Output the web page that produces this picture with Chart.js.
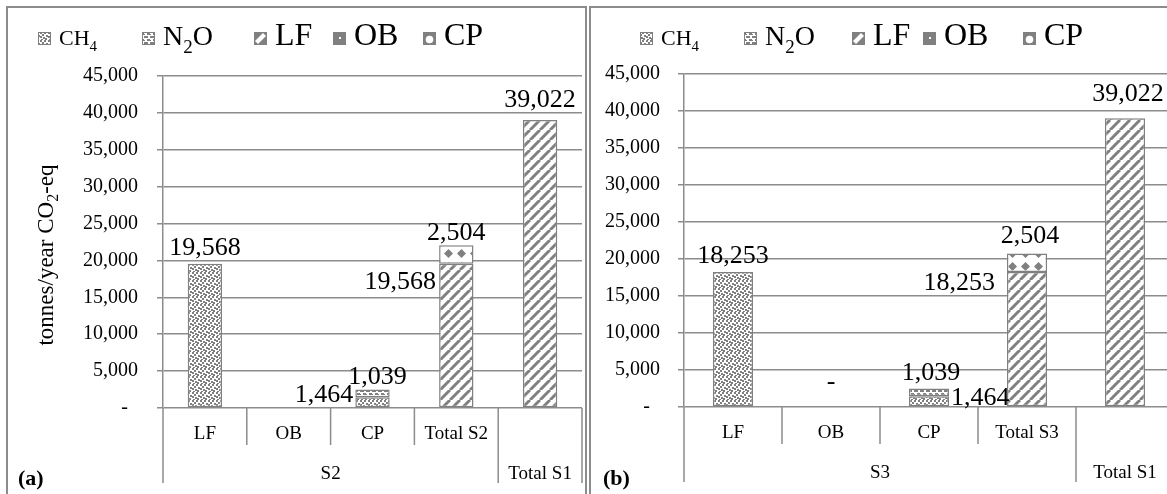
<!DOCTYPE html>
<html>
<head>
<meta charset="utf-8">
<script src="https://cdn.jsdelivr.net/npm/chart.js@4.4.1/dist/chart.umd.min.js"></script>
<style>
  html, body { margin: 0; padding: 0; background: #fff; overflow: hidden; }
  body { width: 1167px; height: 494px; position: relative; }
  .box { position: absolute; top: 6px; height: 600px; border: 2px solid #8c8c8c; border-bottom: none; }
  #boxA { left: 6px; width: 577px; }
  #boxB { left: 589px; width: 700px; }
  canvas { position: absolute; top: 0; }
</style>
</head>
<body>
<div class="box" id="boxA"></div>
<div class="box" id="boxB"></div>
<canvas id="chartA" width="588" height="494" style="left:0"></canvas>
<canvas id="chartB" width="590" height="494" style="left:590px"></canvas>
<script>
// categories
const catsA = ['LF', 'OB', 'CP', 'Total S2', ''];
const groupsA = ['S2', 'Total S1'];
const catsB = ['LF', 'OB', 'CP', 'Total S3', ''];
const groupsB = ['S3', 'Total S1'];
const groupSpans = [4, 1];
const seriesNames = ['CH4', 'N2O', 'LF', 'OB', 'CP'];

// panel (a) - S2
const ch4A = [19568, null, 1464, null, null];
const n2oA = [null, null, 1039, null, null];
const lfA = [null, null, null, 19568, 39022];
const obA = [null, null, null, null, null];
const cpA = [null, null, null, 2504, null];

// panel (b) - S3
const ch4B = [18253, null, 1464, null, null];
const n2oB = [null, null, 1039, null, null];
const lfB = [null, null, null, 18253, 39022];
const obB = [null, 0, null, null, null];
const cpB = [null, null, null, 2504, null];

// y axis
const yMax = 45000;
const yStep = 5000;
const yTitle = 'tonnes/year CO2-eq';

const GREY = '#808080';
const LINE = '#8c8c8c';
const FONT = "'Liberation Serif', 'Times New Roman', serif";

function tile(w, h, draw) {
    const c = document.createElement('canvas');
    c.width = w; c.height = h;
    const g = c.getContext('2d');
    g.fillStyle = '#fff';
    g.fillRect(0, 0, w, h);
    g.fillStyle = GREY;
    g.strokeStyle = GREY;
    draw(g);
    return c;
}

const tiles = {
    CH4: tile(8, 8, g => {
        [[0, 0], [4, 0], [2, 2], [6, 3], [0, 4], [3, 5], [5, 6], [1, 7]].forEach(p => g.fillRect(p[0], p[1], 2, 2));
    }),
    N2O: tile(6, 6, g => {
        g.fillRect(0, 0, 4, 2);
        g.fillRect(3, 3, 3, 2);
        g.fillRect(0, 4, 1, 1);
    }),
    LF: tile(10, 10, g => {
        g.lineWidth = 3;
        g.beginPath();
        [-10, 0, 10].forEach(o => { g.moveTo(o, 10); g.lineTo(o + 10, 0); });
        g.stroke();
    }),
    OB: tile(4, 4, g => g.fillRect(0, 0, 4, 4)),
    CP: tile(13, 13, g => {
        g.beginPath();
        g.moveTo(6.5, 2); g.lineTo(11, 6.5); g.lineTo(6.5, 11); g.lineTo(2, 6.5);
        g.closePath();
        g.fill();
    })
};
const pctx = document.createElement('canvas').getContext('2d');
const patterns = {};
Object.keys(tiles).forEach(k => { patterns[k] = pctx.createPattern(tiles[k], 'repeat'); });

// text with digits drawn as subscripts
function drawRich(ctx, text, x, y, size, align) {
    const sub = Math.round(size * 0.68);
    const parts = text.split(/(\d+)/).filter(s => s.length);
    let total = 0;
    parts.forEach(p => {
        ctx.font = (/\d/.test(p) ? sub : size) + 'px ' + FONT;
        total += ctx.measureText(p).width;
    });
    let cx = align === 'center' ? x - total / 2 : x;
    ctx.textAlign = 'left';
    parts.forEach(p => {
        const isSub = /\d/.test(p);
        ctx.font = (isSub ? sub : size) + 'px ' + FONT;
        ctx.fillText(p, cx, y + (isSub ? size * 0.28 : 0));
        cx += ctx.measureText(p).width;
    });
}

function legendIcon(ctx, name, x, y) {
    const s = 13;
    ctx.save();
    if (name === 'CH4' || name === 'N2O') {
        ctx.fillStyle = patterns[name];
        ctx.fillRect(x, y, s, s);
    } else {
        ctx.fillStyle = GREY;
        ctx.fillRect(x, y, s, s);
        ctx.fillStyle = '#fff';
        if (name === 'LF') {
            ctx.beginPath();
            ctx.moveTo(x + 1, y + s - 4); ctx.lineTo(x + s - 4, y + 1);
            ctx.lineTo(x + s - 1, y + 4); ctx.lineTo(x + 4, y + s - 1);
            ctx.closePath(); ctx.fill();
        } else if (name === 'OB') {
            ctx.fillRect(x + 6, y + 5, 2, 2);
        } else {
            ctx.beginPath(); ctx.arc(x + 6.5, y + 7.5, 3.8, 0, Math.PI * 2); ctx.fill();
        }
    }
    ctx.strokeStyle = GREY;
    ctx.lineWidth = 1;
    ctx.strokeRect(x + 0.5, y + 0.5, s - 1, s - 1);
    ctx.restore();
}

const decor = {
    id: 'decor',
    afterDatasetsDraw(chart, args, o) {
        const ctx = chart.ctx;
        const area = chart.chartArea;
        ctx.save();
        ctx.fillStyle = '#000';

        // value labels
        ctx.font = '26px ' + FONT;
        chart.data.datasets.forEach((ds, di) => {
            const meta = chart.getDatasetMeta(di);
            const place = o.labelAt[ds.label] || {};
            ds.data.forEach((v, i) => {
                if (v === null || !place[i]) return;
                const [pos, dx, dy] = place[i];
                const el = meta.data[i];
                const txt = v === 0 ? '-' : v.toLocaleString('en-US');
                if (pos === 'top') {
                    ctx.textAlign = 'center'; ctx.textBaseline = 'alphabetic';
                    ctx.fillText(txt, el.x + dx, el.y + dy);
                } else if (pos === 'left') {
                    ctx.textAlign = 'right'; ctx.textBaseline = 'middle';
                    ctx.fillText(txt, el.x - el.width / 2 + dx, el.y + dy);
                } else {
                    ctx.textAlign = 'left'; ctx.textBaseline = 'middle';
                    ctx.fillText(txt, el.x + el.width / 2 + dx, el.y + dy);
                }
            });
        });

        // two-level category axis
        const n = o.cats.length;
        const w = (area.right - area.left) / n;
        const bounds = [0];
        groupSpans.forEach(sp => bounds.push(bounds[bounds.length - 1] + sp));
        ctx.strokeStyle = LINE;
        ctx.lineWidth = 1.5;
        ctx.beginPath();
        for (let i = 0; i <= n; i++) {
            const x = area.left + i * w;
            const depth = bounds.includes(i) ? 75 : 37;
            ctx.moveTo(x, area.bottom);
            ctx.lineTo(x, area.bottom + depth);
        }
        ctx.stroke();
        ctx.font = '19px ' + FONT;
        ctx.textAlign = 'center';
        ctx.textBaseline = 'middle';
        o.cats.forEach((c, i) => ctx.fillText(c, area.left + (i + 0.5) * w, area.bottom + 26));
        o.groups.forEach((g, gi) => {
            const mid = (bounds[gi] + bounds[gi + 1]) / 2;
            ctx.fillText(g, area.left + mid * w, area.bottom + 66);
        });

        // legend
        ctx.textBaseline = 'alphabetic';
        seriesNames.forEach((name, i) => {
            const x = o.legendX[i];
            legendIcon(ctx, name, x, 32);
            drawRich(ctx, name, x + 21, 45, o.legendSize[i], 'left');
        });

        // panel letter
        ctx.font = 'bold 22px ' + FONT;
        ctx.textAlign = 'left';
        ctx.fillText(o.letter, o.letterX, 485);

        // y title
        if (o.yTitle) {
            ctx.translate(47, 255);
            ctx.rotate(-Math.PI / 2);
            ctx.textBaseline = 'middle';
            drawRich(ctx, o.yTitle, 0, 0, 23, 'center');
        }
        ctx.restore();
    }
};

function makeChart(id, cats, series, opt) {
    const datasets = seriesNames.map((name, i) => ({
        label: name,
        data: series[i],
        backgroundColor: patterns[name],
        borderColor: GREY,
        borderWidth: 1.5,
        borderSkipped: false,
        barPercentage: 0.41,
        categoryPercentage: 1
    }));
    return new Chart(document.getElementById(id), {
        type: 'bar',
        data: { labels: cats, datasets: datasets },
        plugins: [decor],
        options: {
            responsive: false,
            animation: false,
            layout: { padding: { top: opt.top, right: 6, left: 0, bottom: 0 } },
            scales: {
                x: {
                    stacked: true,
                    ticks: { display: false },
                    grid: { display: false },
                    border: { display: false },
                    afterFit: s => { s.height = opt.xHeight; }
                },
                y: {
                    stacked: true,
                    min: 0,
                    max: yMax,
                    ticks: {
                        stepSize: yStep,
                        padding: opt.tickPad,
                        color: '#000',
                        font: { family: FONT, size: 20 },
                        callback: v => v === 0 ? '-  ' : v.toLocaleString('en-US')
                    },
                    grid: { color: LINE, lineWidth: 1.5, tickLength: 6 },
                    border: { color: LINE, width: 1.5 },
                    afterFit: s => { s.width = opt.yWidth; }
                }
            },
            plugins: {
                legend: { display: false },
                tooltip: { enabled: false },
                decor: {
                    cats: cats,
                    groups: opt.groups,
                    labelAt: opt.labelAt,
                    legendX: opt.legendX,
                    legendSize: [22, 28, 32, 32, 32],
                    letter: opt.letter,
                    letterX: opt.letterX,
                    yTitle: opt.yTitle
                }
            }
        }
    });
}

makeChart('chartA', catsA, [ch4A, n2oA, lfA, obA, cpA], {
    top: 76, xHeight: 86, yWidth: 163, tickPad: 19,
    groups: groupsA,
    legendX: [38, 142, 254, 333, 423],
    letter: '(a)', letterX: 18, yTitle: yTitle,
    labelAt: {
        CH4: { 0: ['top', 0, -9], 2: ['left', -2, -2] },
        N2O: { 2: ['top', 5, -6] },
        LF: { 3: ['left', -3, 19], 4: ['top', 0, -13] },
        CP: { 3: ['top', 0, -5] }
    }
});

makeChart('chartB', catsB, [ch4B, n2oB, lfB, obB, cpB], {
    top: 74, xHeight: 87, yWidth: 94, tickPad: 18,
    groups: groupsB,
    legendX: [50, 154, 262, 333, 433],
    letter: '(b)', letterX: 13, yTitle: null,
    labelAt: {
        CH4: { 0: ['top', 0, -9], 2: ['right', 2, 2] },
        OB: { 1: ['top', 0, -18] },
        N2O: { 2: ['top', 2, -8] },
        LF: { 3: ['left', -12, 11], 4: ['top', 3, -17] },
        CP: { 3: ['top', 3, -10] }
    }
});
</script>
</body>
</html>
